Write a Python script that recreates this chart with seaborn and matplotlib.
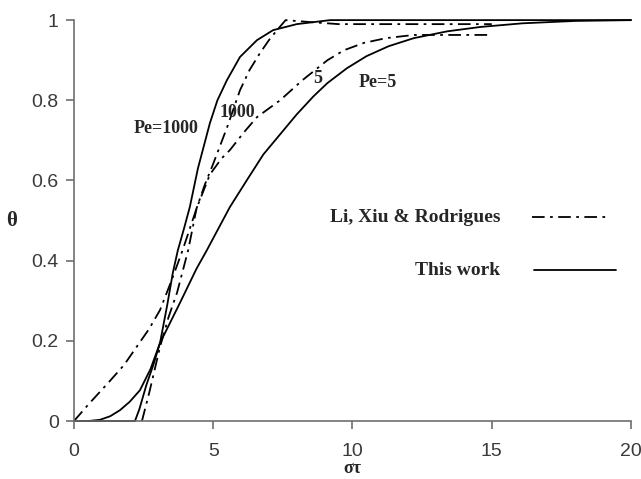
import matplotlib
matplotlib.use("Agg")
import matplotlib.pyplot as plt
import seaborn as sns
import pandas as pd

# ---- data ----
pe5_this_x = [0, 0.5, 0.93, 1.3, 1.65, 2.0, 2.37, 2.75, 3.09, 3.45, 3.8, 4.4, 4.77, 5.2, 5.6,
              6.2, 6.8, 7.4, 8.0, 8.6, 9.1, 9.8, 10.5, 11.3, 12.2, 13.4, 14.6, 16.1, 18.0, 20.0]
pe5_this_y = [0, 0.0, 0.003, 0.012, 0.027, 0.048, 0.077, 0.13, 0.195, 0.245, 0.294, 0.38, 0.426, 0.482, 0.534,
              0.60, 0.665, 0.715, 0.765, 0.81, 0.843, 0.88, 0.91, 0.935, 0.955, 0.972, 0.983, 0.992, 0.998, 1.0]

pe1000_this_x = [0, 2.19, 2.35, 2.6, 2.85, 3.09, 3.35, 3.55, 3.73, 3.95, 4.16, 4.45, 4.88,
                 5.15, 5.49, 5.96, 6.57, 7.15, 8.0, 9.2, 20.0]
pe1000_this_y = [0, 0.0, 0.03, 0.09, 0.14, 0.195, 0.29, 0.37, 0.426, 0.48, 0.534, 0.63, 0.743,
                 0.80, 0.85, 0.908, 0.95, 0.975, 0.99, 1.0, 1.0]

pe5_li_x = [0, 0.5, 1.29, 1.8, 2.3, 2.7, 3.09, 3.5, 3.9, 4.4, 4.88, 5.3, 5.6, 6.1, 6.57,
            7.4, 8.2, 9.1, 9.7, 10.4, 11.2, 12.2, 15.0]
pe5_li_y = [0, 0.04, 0.10, 0.14, 0.19, 0.23, 0.277, 0.35, 0.426, 0.53, 0.615, 0.655, 0.676, 0.72, 0.758,
            0.80, 0.85, 0.90, 0.925, 0.943, 0.955, 0.963, 0.963]

pe1000_li_x = [2.44, 2.7, 3.09, 3.4, 3.7, 4.1, 4.4, 4.7, 4.99, 5.5, 5.96, 6.3, 6.68, 7.0, 7.29,
               7.6, 8.5, 9.5, 15.0]
pe1000_li_y = [0.0, 0.07, 0.185, 0.26, 0.32, 0.426, 0.53, 0.59, 0.64, 0.733, 0.825, 0.875, 0.918, 0.95, 0.975,
               1.0, 0.995, 0.99, 0.99]

x_ticks = [0, 5, 10, 15, 20]
y_ticks = [0, 0.2, 0.4, 0.6, 0.8, 1.0]
y_ticklabels = ["0", "0.2", "0.4", "0.6", "0.8", "1"]

curve_labels = ["Pe=1000", "1000", "5", "Pe=5"]
legend_labels = ["Li, Xiu & Rodrigues", "This work"]

# ---- figure ----
sns.set_style("white")
plt.rcParams["font.family"] = ["Liberation Sans", "DejaVu Sans"]

fig = plt.figure(figsize=(6.41, 4.79), dpi=100)
ax = fig.add_axes([0.1154, 0.121, 0.8690, 0.837])

dashdot = (7, 3, 1.5, 3)
series = [
    (pe5_this_x, pe5_this_y, "solid"),
    (pe1000_this_x, pe1000_this_y, "solid"),
    (pe5_li_x, pe5_li_y, "dashdot"),
    (pe1000_li_x, pe1000_li_y, "dashdot"),
]
for xs, ys, kind in series:
    df = pd.DataFrame({"x": xs, "y": ys})
    sns.lineplot(data=df, x="x", y="y", ax=ax, color="black", lw=1.3,
                 sort=False, estimator=None)
    line = ax.lines[-1]
    line.set_clip_on(False)
    line.set_solid_joinstyle("round")
    if kind == "dashdot":
        line.set_dashes(dashdot)

ax.set_xlim(0, 20)
ax.set_ylim(0, 1)
ax.set_xticks(x_ticks)
ax.set_xticklabels([str(t) for t in x_ticks])
ax.set_yticks(y_ticks)
ax.set_yticklabels(y_ticklabels)

for s in ["top", "right"]:
    ax.spines[s].set_visible(False)
for s in ["left", "bottom"]:
    ax.spines[s].set_color("#6e6e6e")
    ax.spines[s].set_linewidth(1.2)
ax.tick_params(axis="both", direction="out", length=6, width=1.2,
               color="#6e6e6e", labelsize=14, labelcolor="#3a3a3a")
ax.tick_params(axis="x", bottom=True, pad=10)
ax.tick_params(axis="y", left=True, pad=5)

serif = ["Liberation Serif", "DejaVu Serif"]
ax.set_xlabel("στ", fontsize=13, fontweight="bold", family=serif, labelpad=0)
ax.set_ylabel("θ", fontsize=15, fontweight="bold", family=serif, rotation=0,
              labelpad=14, va="center")

# curve annotations
lab_kw = dict(fontsize=13, fontweight="bold", family=serif, ha="center", va="center")
ax.text(3.3, 0.73, curve_labels[0], **lab_kw)
ax.text(5.86, 0.77, curve_labels[1], **lab_kw)
ax.text(8.76, 0.855, curve_labels[2], **lab_kw)
ax.text(10.9, 0.845, curve_labels[3], **lab_kw)

# legend drawn as text + line samples
leg_kw = dict(fontsize=14, fontweight="bold", family=serif, ha="right", va="center")
ax.text(15.3, 0.508, legend_labels[0], **leg_kw)
ax.text(15.3, 0.376, legend_labels[1], **leg_kw)
ax.plot([16.45, 19.2], [0.508, 0.508], color="black", lw=1.3, dashes=dashdot)
ax.plot([16.5, 19.45], [0.376, 0.376], color="black", lw=1.3)

fig.savefig("out.png", dpi=100)
